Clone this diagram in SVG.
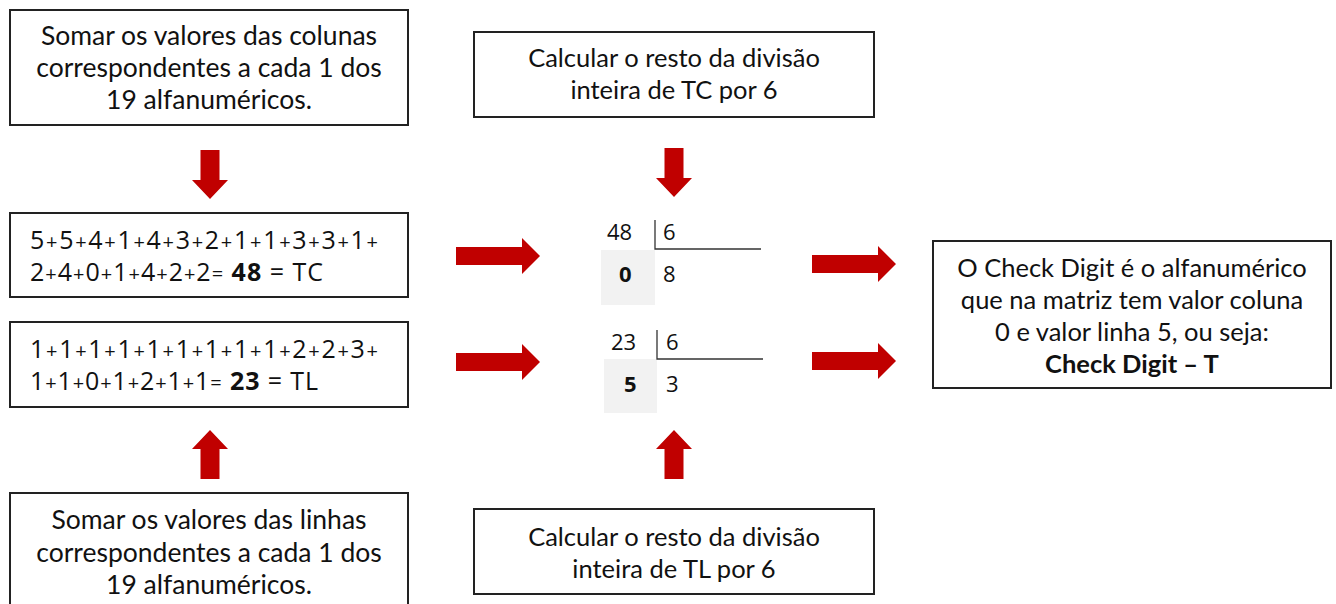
<svg xmlns="http://www.w3.org/2000/svg" xmlns:xlink="http://www.w3.org/1999/xlink" width="1336" height="604" viewBox="0 0 1336 604">
<style>
.box{fill:#fff;stroke:#222;stroke-width:2}
.t{font-family:Lato,"Liberation Sans",sans-serif;font-size:25.5px;fill:#111;text-anchor:middle}
.tl{font-size:26.5px}
.c{font-family:"Open Sans","Liberation Sans",sans-serif;font-size:22px;fill:#111}
.s{font-size:25px}
.p{font-size:20px}
.b{font-weight:bold}
.arr{fill:#c00000}
.ln{stroke:#333;stroke-width:1.3;fill:none}
.g{fill:#f2f2f2}
</style>
<defs>
<path id="ra" d="M0,-9 H66 V-18 L84,0 L66,18 V9 H0 Z"/>
<path id="da" d="M-9.5,0 H9.5 V30 H18 L0,49 L-18,30 H-9.5 Z"/>
</defs>
<rect width="1336" height="604" fill="#fff"/>

<g id="n1">
<rect class="box" x="10" y="10" width="398" height="115"/>
<text class="t tl" x="209" y="45">Somar os valores das colunas</text>
<text class="t tl" x="209" y="77">correspondentes a cada 1 dos</text>
<text class="t tl" x="209" y="109">19 alfanuméricos.</text>
</g>

<g id="n2">
<rect class="box" x="10" y="213" width="398" height="84"/>
<text class="c s" x="30" y="249" textLength="348" lengthAdjust="spacing">5<tspan class="p">+</tspan>5<tspan class="p">+</tspan>4<tspan class="p">+</tspan>1<tspan class="p">+</tspan>4<tspan class="p">+</tspan>3<tspan class="p">+</tspan>2<tspan class="p">+</tspan>1<tspan class="p">+</tspan>1<tspan class="p">+</tspan>3<tspan class="p">+</tspan>3<tspan class="p">+</tspan>1<tspan class="p">+</tspan></text>
<text class="c s" x="30" y="281" textLength="293" lengthAdjust="spacing">2<tspan class="p">+</tspan>4<tspan class="p">+</tspan>0<tspan class="p">+</tspan>1<tspan class="p">+</tspan>4<tspan class="p">+</tspan>2<tspan class="p">+</tspan>2<tspan class="p">=</tspan> <tspan class="b">48</tspan> = TC</text>
</g>

<g id="n3">
<rect class="box" x="10" y="322" width="398" height="85"/>
<text class="c s" x="30" y="358" textLength="348" lengthAdjust="spacing">1<tspan class="p">+</tspan>1<tspan class="p">+</tspan>1<tspan class="p">+</tspan>1<tspan class="p">+</tspan>1<tspan class="p">+</tspan>1<tspan class="p">+</tspan>1<tspan class="p">+</tspan>1<tspan class="p">+</tspan>1<tspan class="p">+</tspan>2<tspan class="p">+</tspan>2<tspan class="p">+</tspan>3<tspan class="p">+</tspan></text>
<text class="c s" x="30" y="390" textLength="288" lengthAdjust="spacing">1<tspan class="p">+</tspan>1<tspan class="p">+</tspan>0<tspan class="p">+</tspan>1<tspan class="p">+</tspan>2<tspan class="p">+</tspan>1<tspan class="p">+</tspan>1<tspan class="p">=</tspan> <tspan class="b">23</tspan> = TL</text>
</g>

<g id="n4">
<rect class="box" x="10" y="493" width="398" height="120"/>
<text class="t tl" x="209" y="529">Somar os valores das linhas</text>
<text class="t tl" x="209" y="562">correspondentes a cada 1 dos</text>
<text class="t tl" x="209" y="594">19 alfanuméricos.</text>
</g>

<g id="n5">
<rect class="box" x="474" y="32" width="400" height="85"/>
<text class="t" x="674" y="67">Calcular o resto da divisão</text>
<text class="t" x="674" y="99">inteira de TC por 6</text>
</g>

<g id="n6">
<rect class="box" x="474" y="509" width="400" height="85"/>
<text class="t" x="674" y="546">Calcular o resto da divisão</text>
<text class="t" x="674" y="578">inteira de TL por 6</text>
</g>

<g id="n7">
<rect class="g" x="601" y="250" width="54" height="55"/>
<path class="ln" d="M655,220 V249 H761"/>
<text class="c" x="607" y="240">48</text>
<text class="c" x="663" y="240">6</text>
<text class="c b" x="619" y="282">0</text>
<text class="c" x="663" y="282">8</text>
</g>

<g id="n8">
<rect class="g" x="604" y="359" width="53" height="54"/>
<path class="ln" d="M657,330 V359 H763"/>
<text class="c" x="611" y="350">23</text>
<text class="c" x="666" y="350">6</text>
<text class="c b" x="624" y="392">5</text>
<text class="c" x="666" y="392">3</text>
</g>

<g id="n9">
<rect class="box" x="933" y="241" width="398" height="147"/>
<text class="t" x="1132" y="277">O Check Digit é o alfanumérico</text>
<text class="t" x="1132" y="309">que na matriz tem valor coluna</text>
<text class="t" x="1132" y="341">0 e valor linha 5, ou seja:</text>
<text class="t b" x="1132" y="373">Check Digit – T</text>
</g>

<g id="connectors" class="arr">
<use xlink:href="#da" transform="translate(210,150)"/>
<use xlink:href="#da" transform="translate(210,479) rotate(180)"/>
<use xlink:href="#da" transform="translate(674,148)"/>
<use xlink:href="#da" transform="translate(674,479) rotate(180)"/>
<use xlink:href="#ra" transform="translate(456,256)"/>
<use xlink:href="#ra" transform="translate(456,362)"/>
<use xlink:href="#ra" transform="translate(812,264)"/>
<use xlink:href="#ra" transform="translate(812,361)"/>
</g>
</svg>
